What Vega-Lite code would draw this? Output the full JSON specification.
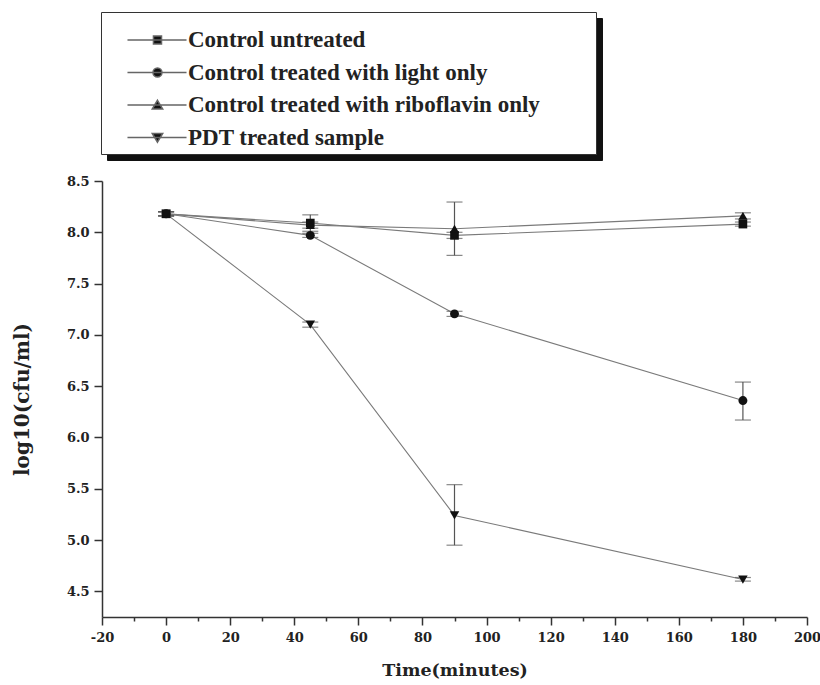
{
  "$schema": "https://vega.github.io/schema/vega-lite/v6.json",
  "width": 705,
  "height": 436,
  "autosize": {"type": "none"},
  "padding": {"left": 102, "top": 181, "right": 13, "bottom": 68},
  "background": "white",
  "config": {
    "view": {"stroke": null},
    "axis": {
      "grid": false,
      "domainColor": "#333",
      "domainWidth": 1.5,
      "tickColor": "#333",
      "tickWidth": 1.5,
      "labelFont": "DejaVu Serif",
      "labelFontWeight": "bold",
      "labelFontSize": 13,
      "labelColor": "#222",
      "titleFont": "DejaVu Serif",
      "titleFontWeight": "bold",
      "titleFontSize": 17.5,
      "titleColor": "#222",
      "labelOverlap": false,
      "labelFlush": false
    },
    "legend": {
      "orient": "none",
      "padding": 4,
      "symbolSize": 144,
      "symbolOpacity": 1,
      "titleFontSize": 10,
      "titlePadding": 2.5,
      "labelFont": "Liberation Serif",
      "labelFontWeight": "bold",
      "labelFontSize": 23,
      "labelLimit": 1000,
      "rowPadding": 8.5
    }
  },
  "data": {
    "values": [
      {"series": "Control untreated", "t": 0, "v": 8.18, "lo": 8.16, "hi": 8.2},
      {"series": "Control untreated", "t": 45, "v": 8.09, "lo": 8.01, "hi": 8.17},
      {"series": "Control untreated", "t": 90, "v": 7.97, "lo": 7.94, "hi": 8.0},
      {"series": "Control untreated", "t": 180, "v": 8.08, "lo": 8.06, "hi": 8.1},
      {"series": "Control treated with light only", "t": 0, "v": 8.18, "lo": 8.16, "hi": 8.2},
      {"series": "Control treated with light only", "t": 45, "v": 7.97, "lo": 7.95, "hi": 7.99},
      {"series": "Control treated with light only", "t": 90, "v": 7.205, "lo": 7.18, "hi": 7.23},
      {"series": "Control treated with light only", "t": 180, "v": 6.36, "lo": 6.17, "hi": 6.54},
      {"series": "Control treated with riboflavin only", "t": 0, "v": 8.18, "lo": 8.16, "hi": 8.2},
      {"series": "Control treated with riboflavin only", "t": 45, "v": 8.07, "lo": 8.04, "hi": 8.1},
      {"series": "Control treated with riboflavin only", "t": 90, "v": 8.035, "lo": 7.775, "hi": 8.295},
      {"series": "Control treated with riboflavin only", "t": 180, "v": 8.16, "lo": 8.13, "hi": 8.19},
      {"series": "PDT treated sample", "t": 0, "v": 8.18, "lo": 8.16, "hi": 8.2},
      {"series": "PDT treated sample", "t": 45, "v": 7.1, "lo": 7.075, "hi": 7.125},
      {"series": "PDT treated sample", "t": 90, "v": 5.24, "lo": 4.95, "hi": 5.54},
      {"series": "PDT treated sample", "t": 180, "v": 4.615, "lo": 4.6, "hi": 4.635}
    ]
  },
  "encoding": {
    "x": {
      "field": "t",
      "type": "quantitative",
      "title": "Time(minutes)",
      "scale": {"domain": [-20, 200], "nice": false, "zero": false},
      "axis": {
        "values": [-20, -10, 0, 10, 20, 30, 40, 50, 60, 70, 80, 90, 100, 110, 120, 130, 140, 150, 160, 170, 180, 190, 200],
        "labelExpr": "datum.value % 20 === 0 ? '' + datum.value : ''",
        "tickSize": {"condition": {"test": "datum.value % 20 === 0", "value": 8}, "value": 4},
        "labelPadding": 6,
        "titlePadding": 17
      }
    }
  },
  "layer": [
    {
      "mark": {"type": "line", "color": "#7a7a7a", "strokeWidth": 1.1},
      "encoding": {
        "y": {
          "field": "v",
          "type": "quantitative",
          "title": "log10(cfu/ml)",
          "scale": {"domain": [4.25, 8.5], "nice": false, "zero": false},
          "axis": {
            "values": [4.5, 4.75, 5, 5.25, 5.5, 5.75, 6, 6.25, 6.5, 6.75, 7, 7.25, 7.5, 7.75, 8, 8.25, 8.5],
            "labelExpr": "datum.value % 0.5 === 0 ? format(datum.value, '.1f') : ''",
            "tickSize": {"condition": {"test": "datum.value % 0.5 === 0", "value": 8}, "value": 4},
            "labelPadding": 5,
            "titlePadding": 34,
            "titleFontSize": 20
          }
        },
        "detail": {"field": "series"}
      }
    },
    {
      "mark": {"type": "rule", "color": "#555", "strokeWidth": 1.2},
      "encoding": {
        "y": {"field": "lo", "type": "quantitative", "title": "log10(cfu/ml)"},
        "y2": {"field": "hi"}
      }
    },
    {
      "mark": {"type": "tick", "orient": "horizontal", "color": "#555", "size": 16, "thickness": 1.2},
      "encoding": {
        "y": {"field": "lo", "type": "quantitative", "title": "log10(cfu/ml)"}
      }
    },
    {
      "mark": {"type": "tick", "orient": "horizontal", "color": "#555", "size": 16, "thickness": 1.2},
      "encoding": {
        "y": {"field": "hi", "type": "quantitative", "title": "log10(cfu/ml)"}
      }
    },
    {
      "mark": {"type": "point", "filled": true, "color": "#111", "opacity": 1},
      "encoding": {
        "y": {"field": "v", "type": "quantitative", "title": "log10(cfu/ml)"},
        "shape": {
          "field": "series",
          "type": "nominal",
          "scale": {
            "domain": ["Control untreated", "Control treated with light only", "Control treated with riboflavin only", "PDT treated sample"],
            "range": ["square", "circle", "triangle-up", "triangle-down"]
          },
          "legend": null
        },
        "size": {
          "field": "series",
          "type": "nominal",
          "scale": {
            "domain": ["Control untreated", "Control treated with light only", "Control treated with riboflavin only", "PDT treated sample"],
            "range": [75, 90, 125, 125]
          },
          "legend": null
        }
      }
    },
    {
      "transform": [{"filter": "datum.t < -100"}],
      "mark": {"type": "point", "filled": true, "color": "#111", "stroke": "#111", "opacity": 1},
      "encoding": {
        "y": {"field": "v", "type": "quantitative", "title": "log10(cfu/ml)"},
        "shape": {
          "field": "series",
          "type": "nominal",
          "scale": {
            "domain": ["Control untreated", "Control treated with light only", "Control treated with riboflavin only", "PDT treated sample"],
            "range": ["square", "square", "square", "square"]
          },
          "legend": {
            "legendX": 5,
            "legendY": -163,
            "zindex": 0,
            "title": "\u00a0",
            "strokeColor": "#111",
            "fillColor": "#111",
            "labelColor": "#111",
            "titleColor": "#111",
            "labelOffset": 458,
            "labelExpr": "'.'"
          }
        }
      }
    },
    {
      "transform": [{"filter": "datum.t < -100"}],
      "mark": {"type": "point", "filled": true, "color": "#ffffff", "stroke": "#ffffff", "opacity": 1},
      "encoding": {
        "y": {"field": "v", "type": "quantitative", "title": "log10(cfu/ml)"},
        "shape": {
          "field": "series",
          "type": "nominal",
          "scale": {
            "domain": ["Control untreated", "Control treated with light only", "Control treated with riboflavin only", "PDT treated sample"],
            "range": ["square", "square", "square", "square"]
          },
          "legend": {
            "legendX": -1,
            "legendY": -169,
            "zindex": 1,
            "title": "\u00a0",
            "strokeColor": "#333",
            "fillColor": "#ffffff",
            "labelColor": "#ffffff",
            "titleColor": "#ffffff",
            "labelOffset": 458,
            "labelExpr": "'.'"
          }
        }
      }
    },
    {
      "transform": [{"filter": "datum.t < -100"}],
      "mark": {"type": "point", "filled": false, "color": "#666", "stroke": "#666", "fill": "#111", "strokeWidth": 1, "opacity": 1},
      "encoding": {
        "y": {"field": "v", "type": "quantitative", "title": "log10(cfu/ml)"},
        "shape": {
          "field": "series",
          "type": "nominal",
          "scale": {
            "domain": ["Control untreated", "Control treated with light only", "Control treated with riboflavin only", "PDT treated sample"],
            "range": [
              "M1.83,0H11.67M6.16,-0.67H7.5V0.67H6.16Z",
              "M1.83,0H11.67M6.08,0A0.75,0.75 0 1,0 7.58,0A0.75,0.75 0 1,0 6.08,0Z",
              "M1.83,0H11.67M6.83,-0.78L7.7,0.68H5.96Z",
              "M1.83,0H11.67M6.83,0.78L7.7,-0.68H5.96Z"
            ]
          },
          "legend": {
            "legendX": -1,
            "legendY": -169,
            "zindex": 2,
            "title": "\u00a0",
            "titleColor": "#ffffff",
            "labelColor": "#222",
            "labelOffset": 60
          }
        }
      }
    }
  ],
  "resolve": {"scale": {"shape": "independent"}, "legend": {"shape": "independent"}}
}
